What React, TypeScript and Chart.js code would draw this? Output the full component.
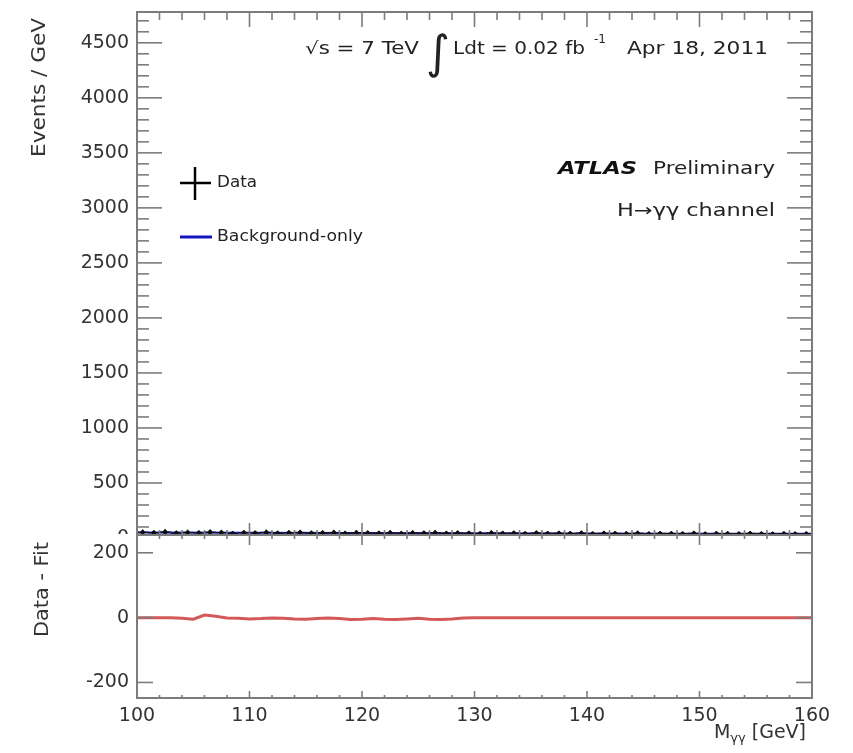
import React, { useEffect, useRef } from "react";
import { Chart, registerables } from "chart.js";

Chart.register(...registerables);

// ---- data ----
const binWidth = 1;
const binCenters = [
  100.5, 101.5, 102.5, 103.5, 104.5, 105.5, 106.5, 107.5, 108.5, 109.5,
  110.5, 111.5, 112.5, 113.5, 114.5, 115.5, 116.5, 117.5, 118.5, 119.5,
  120.5, 121.5, 122.5, 123.5, 124.5, 125.5, 126.5, 127.5, 128.5, 129.5,
  130.5, 131.5, 132.5, 133.5, 134.5, 135.5, 136.5, 137.5, 138.5, 139.5,
  140.5, 141.5, 142.5, 143.5, 144.5, 145.5, 146.5, 147.5, 148.5, 149.5,
  150.5, 151.5, 152.5, 153.5, 154.5, 155.5, 156.5, 157.5, 158.5, 159.5,
];
const dataEvents = [
  52, 47, 55, 44, 50, 46, 53, 49, 41, 48,
  45, 51, 43, 47, 50, 44, 46, 49, 42, 48,
  45, 43, 47, 41, 46, 44, 48, 42, 45, 43,
  40, 46, 42, 44, 39, 45, 41, 43, 40, 44,
  38, 42, 41, 39, 43, 37, 41, 40, 38, 42,
  36, 40, 39, 37, 41, 38, 36, 39, 37, 38,
];
const dataErrors = [
  26, 25, 27, 24, 26, 25, 27, 26, 23, 25,
  24, 26, 24, 25, 26, 24, 25, 26, 23, 25,
  24, 24, 25, 23, 25, 24, 25, 23, 24, 24,
  23, 25, 23, 24, 23, 24, 23, 24, 23, 24,
  22, 23, 23, 23, 24, 22, 23, 23, 22, 23,
  22, 23, 23, 22, 23, 22, 22, 23, 22, 22,
];
const fitMass = [100, 110, 120, 130, 140, 150, 160];
const fitEvents = [50, 47, 45, 43, 41, 39, 38];

const residMass = [
  100, 101, 102, 103, 104, 105, 106, 107, 108, 109,
  110, 111, 112, 113, 114, 115, 116, 117, 118, 119,
  120, 121, 122, 123, 124, 125, 126, 127, 128, 129,
  130, 135, 140, 145, 150, 155, 160,
];
const residValues = [
  0, 0, 0, 0, -2, -5, 8, 4, -1, -2,
  -4, -3, -1, -2, -4, -5, -3, -1, -3, -6,
  -5, -3, -5, -6, -4, -2, -5, -6, -4, -1,
  0, 0, 0, 0, 0, 0, 0,
];

const upperTickValues = [0, 500, 1000, 1500, 2000, 2500, 3000, 3500, 4000, 4500];
const lowerTickValues = [-200, 0, 200];
const massTickValues = [100, 110, 120, 130, 140, 150, 160];

const FONT = "'DejaVu Sans', sans-serif";
const FRAME = "#7c7c7c";
const TEXT = "#222";

function line(ctx: CanvasRenderingContext2D, x1: number, y1: number, x2: number, y2: number) {
  ctx.beginPath();
  ctx.moveTo(x1, y1);
  ctx.lineTo(x2, y2);
  ctx.stroke();
}

function stretched(
  ctx: CanvasRenderingContext2D,
  text: string,
  x: number,
  y: number,
  width: number,
  font: string,
  color = TEXT,
  rotate = 0
) {
  ctx.save();
  ctx.font = font;
  ctx.fillStyle = color;
  ctx.textBaseline = "middle";
  ctx.textAlign = "left";
  const w = ctx.measureText(text).width;
  ctx.translate(x, y);
  if (rotate) ctx.rotate(rotate);
  ctx.scale(width / w, 1);
  ctx.fillText(text, 0, 0);
  ctx.restore();
}

const upperDecor = {
  id: "upperDecor",
  afterDatasetsDraw(chart: any) {
    const { ctx, scales } = chart;
    const x = scales.x;
    const y = scales.y;
    ctx.save();
    ctx.strokeStyle = "#111";
    ctx.lineWidth = 1.3;
    binCenters.forEach((m, i) => {
      const px = x.getPixelForValue(m);
      const py = y.getPixelForValue(dataEvents[i]);
      line(ctx, x.getPixelForValue(m - binWidth / 2), py, x.getPixelForValue(m + binWidth / 2), py);
      line(ctx, px, y.getPixelForValue(dataEvents[i] - dataErrors[i]), px, y.getPixelForValue(dataEvents[i] + dataErrors[i]));
    });
    ctx.restore();
  },
  afterDraw(chart: any) {
    const { ctx, chartArea: a, scales } = chart;
    const x = scales.x;
    const y = scales.y;
    ctx.save();
    ctx.strokeStyle = FRAME;
    ctx.lineWidth = 1.6;
    for (let v = 0; v <= 4700; v += 100) {
      const len = v % 500 === 0 ? 25 : 12;
      const py = y.getPixelForValue(v);
      line(ctx, a.left, py, a.left + len, py);
      line(ctx, a.right, py, a.right - len, py);
    }
    for (let m = 100; m <= 160; m += 2) {
      const len = m % 10 === 0 ? 15 : 8;
      const px = x.getPixelForValue(m);
      line(ctx, px, a.top, px, a.top + len);
      line(ctx, px, a.bottom, px, a.bottom - len);
    }
    ctx.lineWidth = 2;
    ctx.strokeRect(a.left, a.top, a.right - a.left, a.bottom - a.top);
    ctx.restore();

    // y title
    stretched(ctx, "Events / GeV", 40, 157, 139, `19px ${FONT}`, "#333", -Math.PI / 2);

    // top label line
    const f17 = `17px ${FONT}`;
    stretched(ctx, "√s = 7 TeV", 305, 50, 114, f17);
    ctx.save();
    ctx.font = `46px ${FONT}`;
    ctx.fillStyle = TEXT;
    ctx.textBaseline = "middle";
    ctx.fillText("∫", 426, 56);
    ctx.restore();
    stretched(ctx, "Ldt = 0.02 fb", 453, 50, 132, f17);
    stretched(ctx, "-1", 594, 40, 12, `12px ${FONT}`);
    stretched(ctx, "Apr 18, 2011", 627, 50, 141, f17);

    // ATLAS label
    stretched(ctx, "ATLAS", 558, 170, 79, `italic bold 17px ${FONT}`, "#111");
    stretched(ctx, "Preliminary", 653, 170, 122, f17);
    stretched(ctx, "H→γγ channel", 617, 212, 158, f17);

    // legend
    ctx.save();
    ctx.strokeStyle = "#000";
    ctx.lineWidth = 2.5;
    line(ctx, 180, 183, 211, 183);
    line(ctx, 195, 167, 195, 200);
    ctx.strokeStyle = "#1515c0";
    ctx.lineWidth = 3;
    line(ctx, 180, 237, 212, 237);
    ctx.restore();
    stretched(ctx, "Data", 217, 183, 40, `15px ${FONT}`);
    stretched(ctx, "Background-only", 217, 237, 146, `15px ${FONT}`);
  },
};

const lowerDecor = {
  id: "lowerDecor",
  beforeDraw(chart: any) {
    const { ctx, width, height } = chart;
    ctx.save();
    ctx.fillStyle = "#fff";
    ctx.fillRect(0, 0, width, height);
    ctx.restore();
  },
  afterDraw(chart: any) {
    const { ctx, chartArea: a, scales } = chart;
    const x = scales.x;
    const y = scales.y;
    ctx.save();
    ctx.strokeStyle = FRAME;
    ctx.lineWidth = 1.6;
    lowerTickValues.forEach((v) => {
      const py = y.getPixelForValue(v);
      line(ctx, a.left, py, a.left + 16, py);
      line(ctx, a.right, py, a.right - 16, py);
    });
    for (let m = 100; m <= 160; m += 2) {
      const major = m % 10 === 0;
      const px = x.getPixelForValue(m);
      line(ctx, px, a.top, px, a.top + (major ? 10 : 4));
      line(ctx, px, a.bottom, px, a.bottom - (major ? 7 : 3));
    }
    ctx.lineWidth = 2;
    ctx.strokeRect(a.left, a.top, a.right - a.left, a.bottom - a.top);
    ctx.restore();

    stretched(ctx, "Data - Fit", 43, 103, 95, `19px ${FONT}`, "#333", -Math.PI / 2);

    // x title M_γγ [GeV], right aligned near 805
    ctx.save();
    ctx.fillStyle = "#333";
    ctx.textBaseline = "middle";
    ctx.font = `19px ${FONT}`;
    const wM = ctx.measureText("M").width;
    const wG = ctx.measureText(" [GeV]").width;
    ctx.font = `13px ${FONT}`;
    const wS = ctx.measureText("γγ").width;
    const right = 806;
    const start = right - (wM + wS + wG);
    ctx.font = `19px ${FONT}`;
    ctx.fillText("M", start, 199);
    ctx.font = `13px ${FONT}`;
    ctx.fillText("γγ", start + wM, 205);
    ctx.font = `19px ${FONT}`;
    ctx.fillText(" [GeV]", start + wM + wS, 199);
    ctx.restore();
  },
};

function noPad(s: any) {
  s.paddingTop = 0;
  s.paddingBottom = 0;
  s.paddingLeft = 0;
  s.paddingRight = 0;
}

export default function App() {
  const upperRef = useRef<HTMLCanvasElement>(null);
  const lowerRef = useRef<HTMLCanvasElement>(null);

  useEffect(() => {
    const tickFont = { family: "'DejaVu Sans', sans-serif", size: 19 };
    const fmt = (v: any) => String(v);
    const upper = new Chart(upperRef.current as HTMLCanvasElement, {
      type: "scatter",
      data: {
        datasets: [
          {
            label: "Data",
            data: binCenters.map((m, i) => ({ x: m, y: dataEvents[i] })),
            pointRadius: 1.8,
            pointBackgroundColor: "#000",
            pointBorderColor: "#000",
            showLine: false,
            order: 0,
          },
          {
            label: "Background-only",
            data: fitMass.map((m, i) => ({ x: m, y: fitEvents[i] })),
            showLine: true,
            borderColor: "#1a1ac0",
            borderWidth: 2,
            pointRadius: 0,
            order: 1,
          },
        ],
      },
      options: {
        animation: false,
        responsive: false,
        events: [],
        layout: { padding: { top: 12, bottom: 22, left: 0, right: 41 } },
        plugins: { legend: { display: false }, tooltip: { enabled: false } },
        scales: {
          x: { type: "linear", min: 100, max: 160, display: false },
          y: {
            type: "linear",
            min: 0,
            max: 4780,
            grid: { display: false, drawTicks: false },
            border: { display: false },
            ticks: { padding: 8, color: "#333", font: tickFont, callback: fmt },
            afterBuildTicks: (s: any) => {
              s.ticks = upperTickValues.map((v) => ({ value: v }));
            },
            afterFit: (s: any) => {
              s.width = 137;
              noPad(s);
            },
          },
        },
      },
      plugins: [upperDecor],
    } as any);

    const lower = new Chart(lowerRef.current as HTMLCanvasElement, {
      type: "scatter",
      data: {
        datasets: [
          {
            label: "Data - Fit",
            data: residMass.map((m, i) => ({ x: m, y: residValues[i] })),
            showLine: true,
            borderColor: "#d45858",
            borderWidth: 3,
            pointRadius: 0,
          },
        ],
      },
      options: {
        animation: false,
        responsive: false,
        events: [],
        layout: { padding: { top: 1, bottom: 0, left: 0, right: 41 } },
        plugins: { legend: { display: false }, tooltip: { enabled: false } },
        scales: {
          x: {
            type: "linear",
            min: 100,
            max: 160,
            grid: { display: false, drawTicks: false },
            border: { display: false },
            ticks: { padding: 7, color: "#333", font: tickFont, maxRotation: 0, callback: fmt },
            afterBuildTicks: (s: any) => {
              s.ticks = massTickValues.map((v) => ({ value: v }));
            },
            afterFit: (s: any) => {
              s.height = 55;
              noPad(s);
            },
          },
          y: {
            type: "linear",
            min: -248,
            max: 255,
            grid: { display: false, drawTicks: false },
            border: { display: false },
            ticks: { padding: 8, color: "#333", font: tickFont, callback: fmt },
            afterBuildTicks: (s: any) => {
              s.ticks = lowerTickValues.map((v) => ({ value: v }));
            },
            afterFit: (s: any) => {
              s.width = 137;
              noPad(s);
            },
          },
        },
      },
      plugins: [lowerDecor],
    } as any);

    return () => {
      upper.destroy();
      lower.destroy();
    };
  }, []);

  return (
    <div style={{ position: "absolute", left: 0, top: 0, width: 853, height: 753, background: "#fff" }}>
      <canvas ref={upperRef} width={853} height={560} style={{ position: "absolute", left: 0, top: 0 }} />
      <canvas ref={lowerRef} width={853} height={219} style={{ position: "absolute", left: 0, top: 534 }} />
    </div>
  );
}
